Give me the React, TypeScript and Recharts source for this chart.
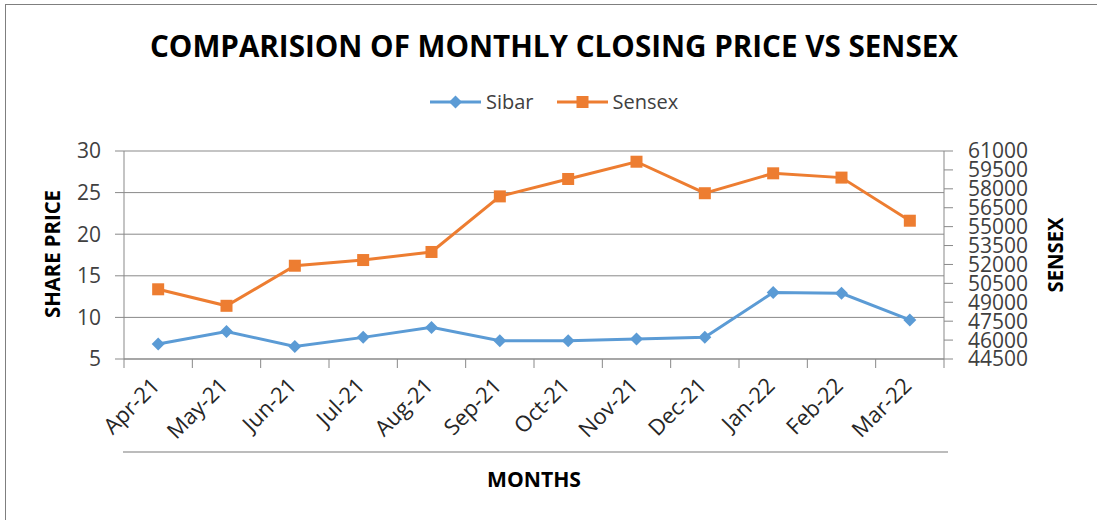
import { LineChart, Line, XAxis, YAxis, CartesianGrid, Legend } from 'recharts';

const months = ['Apr-21', 'May-21', 'Jun-21', 'Jul-21', 'Aug-21', 'Sep-21', 'Oct-21', 'Nov-21', 'Dec-21', 'Jan-22', 'Feb-22', 'Mar-22'];
const sibar = [6.8, 8.3, 6.5, 7.6, 8.8, 7.2, 7.2, 7.4, 7.6, 13.0, 12.9, 9.7];
const sensex = [50030, 48720, 51900, 52350, 52990, 57400, 58780, 60150, 57650, 59230, 58890, 55470];
const priceTicks = [5, 10, 15, 20, 25, 30];
const sensexTicks = [44500, 46000, 47500, 49000, 50500, 52000, 53500, 55000, 56500, 58000, 59500, 61000];

const data = months.map((m, i) => ({ idx: i, month: m, sibar: sibar[i], sensex: sensex[i] }));
// category centers sit on integers, boundaries on the halves (excel style tick marks)
const boundaryTicks = [...months.map((_, i) => i - 0.5), months.length - 0.5];
const monthTicks = months.map((_, i) => i);

const BLUE = '#5B9BD5';
const ORANGE = '#ED7D31';
const AXIS = '#898989';
const TEXT = '#404040';
const FONT = '"Open Sans", sans-serif';

const DiamondDot = (props: any) => {
    const { cx, cy } = props;
    if (cx == null || cy == null) return null;
    const r = 6.5;
    return <polygon points={`${cx},${cy - r} ${cx + r},${cy} ${cx},${cy + r} ${cx - r},${cy}`} fill={BLUE} />;
};

const SquareDot = (props: any) => {
    const { cx, cy } = props;
    if (cx == null || cy == null) return null;
    return <rect x={cx - 6} y={cy - 6} width={12} height={12} fill={ORANGE} />;
};

const MonthTick = ({ x, y, payload }: any) => (
    <g transform={`translate(${x + 3},${y + 25})`}>
        <text x={0} y={0} textAnchor="end" transform="rotate(-45)" fill="#262626" fontSize={22} fontFamily={FONT}>
            {months[payload.value]}
        </text>
    </g>
);

const EmptyTick = () => <g />;

const legendItems = [
    { name: 'Sibar', color: BLUE, shape: 'diamond' },
    { name: 'Sensex', color: ORANGE, shape: 'square' },
];

const LegendContent = () => (
    <div style={{ display: 'flex', alignItems: 'center', fontFamily: FONT, fontSize: 20, color: TEXT }}>
        {legendItems.map((item, i) => (
            <div key={item.name} style={{ display: 'flex', alignItems: 'center', marginRight: i === 0 ? 23 : 0 }}>
                <svg width={51} height={14} style={{ marginRight: 5 }}>
                    <line x1={0} y1={7} x2={51} y2={7} stroke={item.color} strokeWidth={3} />
                    {item.shape === 'diamond' ? (
                        <polygon points="25.5,0.5 32,7 25.5,13.5 19,7" fill={item.color} />
                    ) : (
                        <rect x={19.5} y={1} width={12} height={12} fill={item.color} />
                    )}
                </svg>
                <span>{item.name}</span>
            </div>
        ))}
    </div>
);

const App = () => {
    return (
        <div style={{ position: 'fixed', left: 0, top: 0, width: 1097, height: 520, overflow: 'hidden', background: '#fff' }}>
            <div style={{ position: 'absolute', left: 5, top: 4, width: 1200, height: 600, border: '1px solid #7f7f7f' }} />
            <div style={{ position: 'absolute', left: 0, top: 0 }}>
                <LineChart width={1097} height={520} data={data} margin={{ top: 151, right: 53, bottom: 100, left: 64 }}>
                    <CartesianGrid vertical={false} stroke={AXIS} yAxisId="left" xAxisId="months" />
                    <XAxis
                        xAxisId="bounds"
                        type="number"
                        dataKey="idx"
                        domain={[-0.5, months.length - 0.5]}
                        ticks={boundaryTicks}
                        tick={<EmptyTick />}
                        tickSize={9}
                        tickLine={{ stroke: AXIS }}
                        axisLine={{ stroke: AXIS }}
                        height={1}
                        interval={0}
                    />
                    <XAxis
                        xAxisId="months"
                        type="number"
                        dataKey="idx"
                        domain={[-0.5, months.length - 0.5]}
                        ticks={monthTicks}
                        tick={<MonthTick />}
                        tickLine={false}
                        tickSize={0}
                        axisLine={false}
                        height={60}
                        interval={0}
                    />
                    <YAxis
                        yAxisId="left"
                        domain={[5, 30]}
                        ticks={priceTicks}
                        width={60}
                        tickSize={9}
                        tickMargin={14}
                        axisLine={{ stroke: AXIS }}
                        tickLine={{ stroke: AXIS }}
                        tick={{ fill: TEXT, fontSize: 21, fontFamily: FONT }}
                        interval={0}
                    />
                    <YAxis
                        yAxisId="right"
                        orientation="right"
                        domain={[44500, 61000]}
                        ticks={sensexTicks}
                        width={100}
                        tickSize={9}
                        tickMargin={15}
                        axisLine={{ stroke: AXIS }}
                        tickLine={{ stroke: AXIS }}
                        tick={{ fill: TEXT, fontSize: 21, fontFamily: FONT }}
                        interval={0}
                    />
                    <Legend
                        layout="horizontal"
                        verticalAlign="middle"
                        align="center"
                        content={<LegendContent />}
                        wrapperStyle={{ top: 88, left: 430, width: 'auto' }}
                    />
                    <Line
                        xAxisId="months"
                        yAxisId="left"
                        dataKey="sibar"
                        name="Sibar"
                        stroke={BLUE}
                        strokeWidth={3}
                        dot={<DiamondDot />}
                        activeDot={false}
                        isAnimationActive={false}
                    />
                    <Line
                        xAxisId="months"
                        yAxisId="right"
                        dataKey="sensex"
                        name="Sensex"
                        stroke={ORANGE}
                        strokeWidth={3}
                        dot={<SquareDot />}
                        activeDot={false}
                        isAnimationActive={false}
                    />
                </LineChart>
            </div>
            <svg width={1097} height={520} style={{ position: 'absolute', left: 0, top: 0, pointerEvents: 'none' }}>
                <text x={554} y={57} textAnchor="middle" fontFamily={FONT} fontWeight="bold" fontSize={31} fill="#000" textLength={808} lengthAdjust="spacingAndGlyphs">
                    COMPARISION OF MONTHLY CLOSING PRICE VS SENSEX
                </text>
                <text x={53} y={261} transform="rotate(-90, 53, 254)" textAnchor="middle" fontFamily={FONT} fontWeight="bold" fontSize={21} fill="#000" textLength={128} lengthAdjust="spacingAndGlyphs">
                    SHARE PRICE
                </text>
                <text x={1056} y={262} transform="rotate(-90, 1056, 255)" textAnchor="middle" fontFamily={FONT} fontWeight="bold" fontSize={21} fill="#000" textLength={75} lengthAdjust="spacingAndGlyphs">
                    SENSEX
                </text>
                <text x={534} y={487} textAnchor="middle" fontFamily={FONT} fontWeight="bold" fontSize={21} fill="#000" textLength={94} lengthAdjust="spacingAndGlyphs">
                    MONTHS
                </text>
                <line x1={123} y1={452} x2={948} y2={452} stroke="#a6a6a6" strokeWidth={1.5} />
            </svg>
        </div>
    );
};

export default App;
